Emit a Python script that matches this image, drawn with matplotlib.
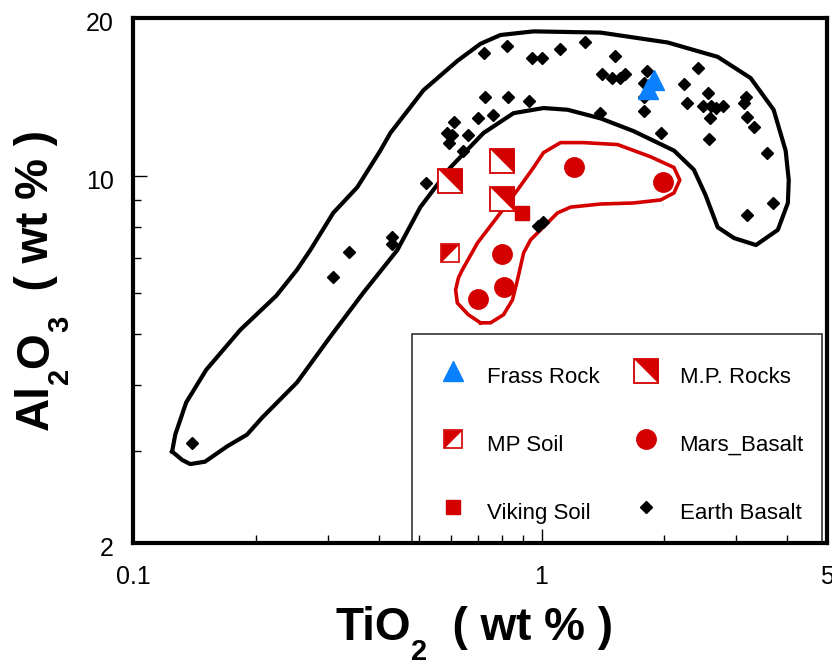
import numpy as np
import matplotlib
matplotlib.use("Agg")
import matplotlib.pyplot as plt
from matplotlib.patches import Rectangle
from matplotlib.transforms import ScaledTranslation

plt.rcParams['font.family'] = ['Liberation Sans', 'DejaVu Sans']

RED = '#d40000'
BLUE = '#0a80ff'

# --- data (TiO2, Al2O3 in wt %) ---
earth_ti = [0.721, 0.821, 0.95, 1.0, 1.107, 1.28, 1.51, 1.41, 1.49, 1.56, 1.60,
            1.81, 1.78, 1.78, 1.78, 2.41, 2.23, 2.27, 2.55, 2.49, 2.60, 2.68,
            2.78, 2.58, 3.16, 3.13, 3.18, 3.31, 2.57, 3.56, 3.68, 3.18, 1.96,
            1.39, 0.729, 0.83, 0.93, 0.609, 0.697, 0.759, 0.588, 0.605, 0.592,
            0.659, 0.644, 0.52, 0.983, 1.006, 0.431, 0.431, 0.338, 0.309, 0.1395]
earth_al = [17.2, 17.7, 16.8, 16.8, 17.5, 18.0, 17.0, 15.7, 15.4, 15.4, 15.7,
            15.9, 15.1, 14.2, 13.3, 16.1, 15.0, 13.8, 14.4, 13.6, 13.6, 13.5,
            13.6, 12.9, 14.2, 13.8, 13.0, 12.4, 11.8, 11.1, 8.9, 8.45, 12.1,
            13.2, 14.2, 14.2, 13.9, 12.7, 12.9, 13.1, 12.1, 12.0, 11.6,
            12.0, 11.2, 9.7, 8.05, 8.2, 7.67, 7.43, 7.18, 6.44, 3.10]

mars_ti = [1.20, 1.98, 0.798, 0.807, 0.697]
mars_al = [10.4, 9.76, 7.12, 6.16, 5.85]

viking_ti = [0.898]
viking_al = [8.52]

mprocks_ti = [0.598, 0.798, 0.798]
mprocks_al = [9.80, 10.7, 9.06]

mpsoil_ti = [0.598]
mpsoil_al = [7.16]

frass_ti = [1.89, 1.82]
frass_al = [15.3, 14.7]

# field outlines
earth_field_ti = [0.1246, 0.1268, 0.1349, 0.151, 0.183, 0.224, 0.252, 0.2716, 0.309,
                  0.354, 0.403, 0.4265, 0.514, 0.622, 0.709, 0.793, 0.956, 1.395,
                  2.036, 2.70, 3.25, 3.70, 3.96, 4.03, 4.01, 3.79, 3.35, 2.96, 2.70,
                  2.52, 2.36, 2.11, 1.68, 1.395, 1.158, 1.011, 0.854, 0.721, 0.598,
                  0.505, 0.4436, 0.366, 0.304, 0.252, 0.207, 0.190, 0.170, 0.150,
                  0.138, 0.132, 0.1246]
earth_field_al = [2.99, 3.22, 3.71, 4.28, 5.10, 5.92, 6.64, 7.24, 8.52,
                  9.54, 11.2, 12.1, 14.6, 16.6, 17.9, 18.6, 18.9, 18.8,
                  18.0, 16.9, 15.4, 13.4, 11.2, 9.84, 8.9, 7.91, 7.40, 7.63, 8.0,
                  9.22, 10.3, 11.2, 12.2, 12.9, 13.4, 13.5, 13.2, 12.1, 10.4,
                  8.74, 7.24, 6.0, 4.95, 4.05, 3.47, 3.22, 3.06, 2.86,
                  2.83, 2.88, 2.99]

mars_field_ti = [0.709, 0.662, 0.622, 0.616, 0.626, 0.640, 0.697, 0.793, 0.873,
                 0.956, 1.011, 1.113, 1.267, 1.536, 1.85, 2.11, 2.18, 2.11, 1.957,
                 1.68, 1.395, 1.178, 1.094, 1.011, 0.94, 0.904, 0.888, 0.873,
                 0.849, 0.807, 0.750, 0.709]
mars_field_al = [5.26, 5.45, 5.74, 6.08, 6.41, 6.64, 7.47, 8.52, 9.42,
                 10.4, 11.1, 11.6, 11.6, 11.5, 10.9, 10.4, 9.84, 9.30, 9.02,
                 8.9, 8.86, 8.74, 8.52, 8.01, 7.57, 7.15, 6.73, 6.35,
                 5.82, 5.45, 5.26, 5.26]

# half-filled square markers
upper_right = [(-1, 1), (1, 1), (1, -1), (-1, 1)]
upper_left = [(-1, -1), (-1, 1), (1, 1), (-1, -1)]

fig = plt.figure(figsize=(8.32, 6.6), dpi=100)
ax = fig.add_axes([0.16, 0.177, 0.834, 0.795])

ax.plot(earth_field_ti, earth_field_al, color='black', lw=3, solid_joinstyle='round', zorder=2)
ax.plot(mars_field_ti, mars_field_al, color=RED, lw=2.6, solid_joinstyle='round', zorder=2)

h_earth, = ax.plot(earth_ti, earth_al, 'D', color='black', ms=5.8, ls='none', zorder=3)
h_frass, = ax.plot(frass_ti, frass_al, '^', color=BLUE, ms=14, ls='none', zorder=4)
h_mars, = ax.plot(mars_ti, mars_al, 'o', color=RED, ms=14, ls='none', zorder=4)
h_viking, = ax.plot(viking_ti, viking_al, 's', color=RED, ms=10.5, ls='none', zorder=4)

h_rk_sq, = ax.plot(mprocks_ti, mprocks_al, 's', mfc='white', mec=RED, mew=1.3, ms=17.5, ls='none', zorder=4)
h_rk_tri, = ax.plot(mprocks_ti, mprocks_al, marker=upper_right, color=RED, mew=0, ms=17.5, ls='none', zorder=5)
h_so_sq, = ax.plot(mpsoil_ti, mpsoil_al, 's', mfc='white', mec=RED, mew=1.2, ms=13, ls='none', zorder=4)
h_so_tri, = ax.plot(mpsoil_ti, mpsoil_al, marker=upper_left, color=RED, mew=0, ms=13, ls='none', zorder=5)

ax.set_xscale('log')
ax.set_yscale('log')
ax.set_xlim(0.1, 5)
ax.set_ylim(2, 20)

ax.set_xticks([0.1, 1, 5])
ax.set_xticklabels(['0.1', '1', '5'])
ax.set_yticks([2, 10, 20])
ax.set_yticklabels(['2', '10', '20'])
ax.tick_params(which='both', direction='in', labelsize=18, width=1)
ax.tick_params(which='major', length=10)
ax.tick_params(which='minor', length=6)
ax.tick_params(axis='x', which='both', pad=16)
ax.tick_params(axis='y', which='both', pad=14)
ax.xaxis.set_minor_formatter(matplotlib.ticker.NullFormatter())
ax.yaxis.set_minor_formatter(matplotlib.ticker.NullFormatter())
shift = ScaledTranslation(0, -0.035, fig.dpi_scale_trans)
for lbl in ax.get_yticklabels():
    lbl.set_transform(lbl.get_transform() + shift)
ax.xaxis.set_zorder(7)

for sp in ax.spines.values():
    sp.set_linewidth(3)
    sp.set_zorder(7)

# axis titles with big, deep subscripts
big = dict(fontsize=33, fontweight='bold')
sub = dict(fontsize=21, fontweight='bold')
dsc = 8.3  # how far the subscript sits above the big text's descent line, points

# x: TiO2 ( wt % )
tx = fig.text(335 / 832, 1 - 640 / 660, 'TiO', ha='left', va='baseline', **big)
sx = ax.annotate('2', xy=(1, 0), xycoords=tx, xytext=(0, dsc), textcoords='offset points',
                 ha='left', va='top', annotation_clip=False, **sub)
ax.annotate('  ( wt % )', xy=(1, 0), xycoords=(sx, tx), ha='left', va='bottom',
            annotation_clip=False, **big)

# y: Al2O3 ( wt % )
ty = fig.text(48 / 832, 1 - 430 / 660, 'Al', rotation=90, rotation_mode='anchor',
              ha='left', va='baseline', **big)
s1 = ax.annotate('2', xy=(1, 1), xycoords=ty, xytext=(-dsc, 0), textcoords='offset points',
                 rotation=90, ha='left', va='bottom', annotation_clip=False, **sub)
t2 = ax.annotate('O', xy=(0, 1), xycoords=(ty, s1), rotation=90, ha='left', va='bottom',
                 annotation_clip=False, **big)
s2 = ax.annotate('3', xy=(1, 1), xycoords=t2, xytext=(-dsc, 0), textcoords='offset points',
                 rotation=90, ha='left', va='bottom', annotation_clip=False, **sub)
ax.annotate('  ( wt % )', xy=(0, 1), xycoords=(ty, s2), rotation=90, ha='left', va='bottom',
            annotation_clip=False, **big)

# legend box drawn separately so it reaches down to the x axis
ax.add_patch(Rectangle((0.402, 0.0), 0.5908, 0.399, transform=ax.transAxes,
                       facecolor='white', edgecolor='#333333', lw=1.2,
                       clip_on=False, zorder=6))
leg = ax.legend([h_frass, (h_so_sq, h_so_tri), h_viking,
                 (h_rk_sq, h_rk_tri), h_mars, h_earth],
                ['Frass Rock', 'MP Soil', 'Viking Soil',
                 'M.P. Rocks', 'Mars_Basalt', 'Earth Basalt'],
                ncol=2, loc='upper left', bbox_to_anchor=(0.402, 0.3874),
                borderaxespad=0, fontsize=16, borderpad=0.85, labelspacing=1.51,
                handlelength=2.0, handleheight=2.0, handletextpad=0.5,
                columnspacing=1.12, frameon=False)
leg.set_zorder(6.5)

fig.savefig('out.png', dpi=100)
